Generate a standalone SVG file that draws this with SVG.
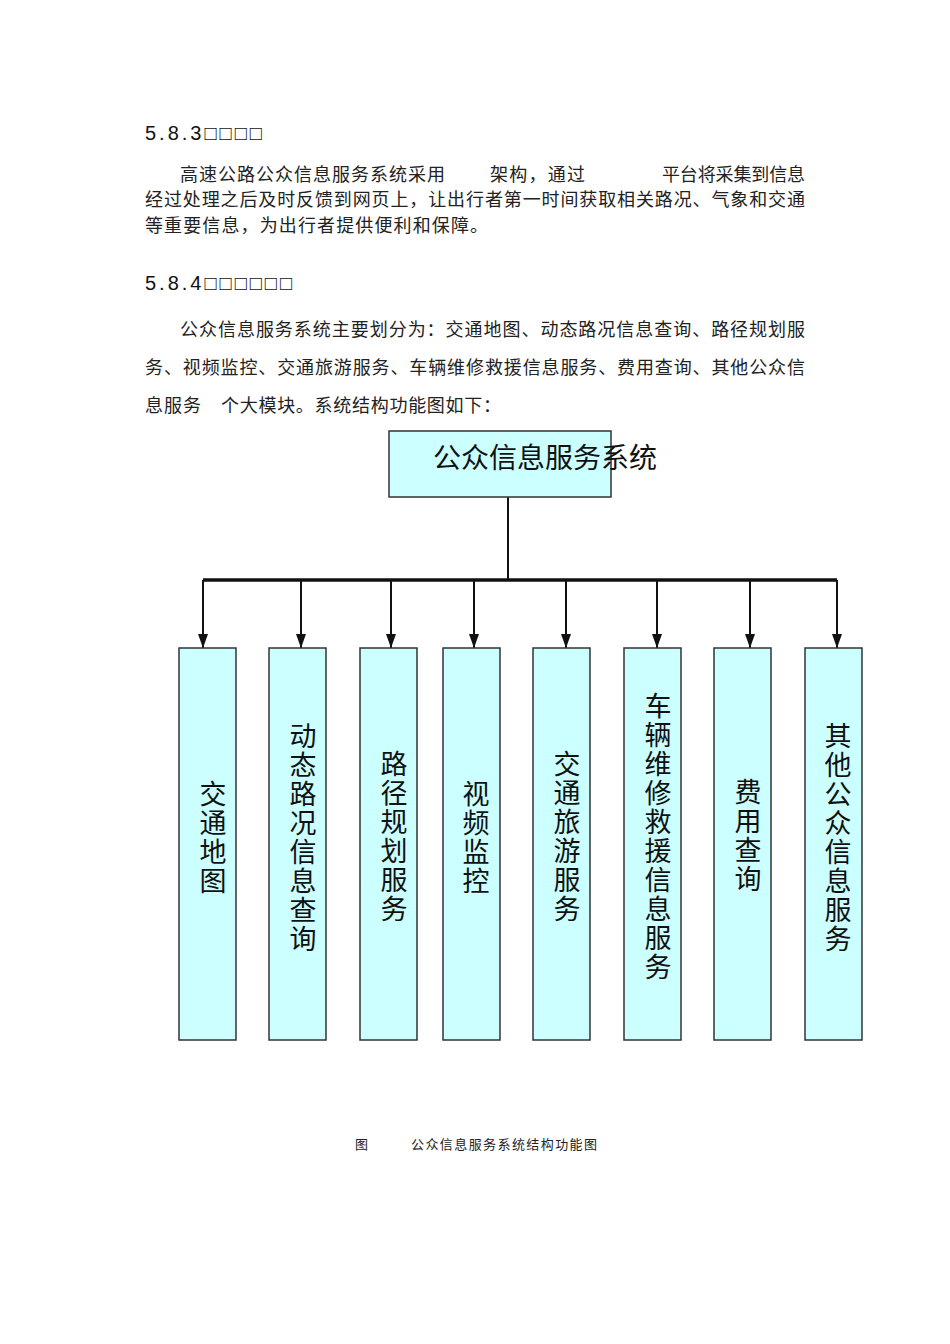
<svg xmlns="http://www.w3.org/2000/svg" width="950" height="1344" viewBox="0 0 950 1344">
<style>
.p{font-family:"Noto Sans CJK SC",sans-serif;font-size:18px;fill:#222}
.h{font-family:"Liberation Sans","Noto Sans CJK SC",sans-serif;font-size:20px;fill:#111}
.box{fill:#ccffff;stroke:#333;stroke-width:1.5}
.v{font-family:"Noto Sans CJK SC",sans-serif;font-size:27px;fill:#111;text-anchor:middle}
.ln{stroke:#111;stroke-width:2;fill:none}
</style>
<defs><marker id="b" viewBox="0 0 10 14" markerWidth="10" markerHeight="14" refX="5" refY="14" orient="0" markerUnits="userSpaceOnUse"><path d="M0,0 L10,0 L5,14 Z" fill="#111"/></marker></defs>
<rect width="950" height="1344" fill="#fff"/>
<text class="h" x="145" y="140" letter-spacing="3">5.8.3□□□□</text>
<text class="p" x="180" y="181" textLength="265">高速公路公众信息服务系统采用</text>
<text class="p" x="490" y="181" textLength="95">架构，通过</text>
<text class="p" x="662" y="181" textLength="143">平台将采集到信息</text>
<text class="p" x="145" y="206" textLength="660">经过处理之后及时反馈到网页上，让出行者第一时间获取相关路况、气象和交通</text>
<text class="p" x="145" y="232" textLength="343">等重要信息，为出行者提供便利和保障。</text>
<text class="h" x="145" y="290" letter-spacing="3">5.8.4□□□□□□</text>
<text class="p" x="180" y="336" textLength="625">公众信息服务系统主要划分为：交通地图、动态路况信息查询、路径规划服</text>
<text class="p" x="145" y="374" textLength="660">务、视频监控、交通旅游服务、车辆维修救援信息服务、费用查询、其他公众信</text>
<text class="p" x="145" y="412" textLength="56">息服务</text>
<text class="p" x="221" y="412" textLength="280">个大模块。系统结构功能图如下：</text>
<g id="connectors">
<path class="ln" d="M508,497 V580"/>
<path d="M203,580 H837" stroke="#111" stroke-width="3.5"/>
<g marker-end="url(#b)">
<path class="ln" d="M203,580 V648"/><path class="ln" d="M301,580 V648"/><path class="ln" d="M391,580 V648"/><path class="ln" d="M474,580 V648"/><path class="ln" d="M566,580 V648"/><path class="ln" d="M657,580 V648"/><path class="ln" d="M750,580 V648"/><path class="ln" d="M837,580 V648"/>
</g></g>
<g id="root"><rect class="box" x="389" y="431" width="222" height="66"/><text x="545" y="468" font-family="Noto Sans CJK SC,sans-serif" font-size="28" text-anchor="middle" fill="#111">公众信息服务系统</text></g>
<g id="n1"><rect class="box" x="179" y="648" width="57" height="392"/><text class="v" x="213"><tspan x="213" y="804">交</tspan><tspan x="213" y="833">通</tspan><tspan x="213" y="862">地</tspan><tspan x="213" y="891">图</tspan></text></g>
<g id="n2"><rect class="box" x="269" y="648" width="57" height="392"/><text class="v"><tspan x="303" y="746">动</tspan><tspan x="303" y="775">态</tspan><tspan x="303" y="804">路</tspan><tspan x="303" y="833">况</tspan><tspan x="303" y="862">信</tspan><tspan x="303" y="891">息</tspan><tspan x="303" y="920">查</tspan><tspan x="303" y="949">询</tspan></text></g>
<g id="n3"><rect class="box" x="360" y="648" width="57" height="392"/><text class="v"><tspan x="394" y="774">路</tspan><tspan x="394" y="803">径</tspan><tspan x="394" y="832">规</tspan><tspan x="394" y="861">划</tspan><tspan x="394" y="890">服</tspan><tspan x="394" y="919">务</tspan></text></g>
<g id="n4"><rect class="box" x="443" y="648" width="57" height="392"/><text class="v"><tspan x="476" y="804">视</tspan><tspan x="476" y="833">频</tspan><tspan x="476" y="862">监</tspan><tspan x="476" y="891">控</tspan></text></g>
<g id="n5"><rect class="box" x="533" y="648" width="57" height="392"/><text class="v"><tspan x="567" y="774">交</tspan><tspan x="567" y="803">通</tspan><tspan x="567" y="832">旅</tspan><tspan x="567" y="861">游</tspan><tspan x="567" y="890">服</tspan><tspan x="567" y="919">务</tspan></text></g>
<g id="n6"><rect class="box" x="624" y="648" width="57" height="392"/><text class="v"><tspan x="658" y="716">车</tspan><tspan x="658" y="745">辆</tspan><tspan x="658" y="774">维</tspan><tspan x="658" y="803">修</tspan><tspan x="658" y="832">救</tspan><tspan x="658" y="861">援</tspan><tspan x="658" y="890">信</tspan><tspan x="658" y="919">息</tspan><tspan x="658" y="948">服</tspan><tspan x="658" y="977">务</tspan></text></g>
<g id="n7"><rect class="box" x="714" y="648" width="57" height="392"/><text class="v"><tspan x="748" y="802">费</tspan><tspan x="748" y="831">用</tspan><tspan x="748" y="860">查</tspan><tspan x="748" y="889">询</tspan></text></g>
<g id="n8"><rect class="box" x="805" y="648" width="57" height="392"/><text class="v"><tspan x="838" y="746">其</tspan><tspan x="838" y="775">他</tspan><tspan x="838" y="804">公</tspan><tspan x="838" y="833">众</tspan><tspan x="838" y="862">信</tspan><tspan x="838" y="891">息</tspan><tspan x="838" y="920">服</tspan><tspan x="838" y="949">务</tspan></text></g>
<text x="355" y="1149" font-family="Noto Sans CJK SC,sans-serif" font-size="13" fill="#222">图</text>
<text x="411" y="1149" font-family="Noto Sans CJK SC,sans-serif" font-size="13" fill="#222" textLength="186">公众信息服务系统结构功能图</text>
</svg>
